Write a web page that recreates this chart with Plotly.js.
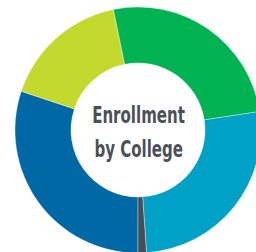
<!DOCTYPE html>
<html>
<head>
<meta charset="utf-8">
<script src="https://cdn.plot.ly/plotly-3.0.1.min.js"></script>
<style>
html,body{margin:0;padding:0;width:256px;height:252px;overflow:hidden;background:#fff;}
#chart{position:absolute;left:14.5px;top:7px;width:246px;height:246px;}
</style>
</head>
<body>
<div id="chart"></div>
<script>
var colleges = ["College of Arts & Sciences", "College of Education", "College of Business", "College of Health Sciences", "Other"];
var enrollmentShare = [30.1, 16.7, 25.8, 26.3, 1.1];
var sliceColors = ["#0068a5", "#c4d92e", "#00b352", "#00a1c7", "#474c56"];
var titleLines = ["Enrollment", "by College"];

var data = [{
  type: "pie",
  labels: colleges,
  values: enrollmentShare,
  hole: 0.545,
  sort: false,
  direction: "clockwise",
  rotation: 180,
  textinfo: "none",
  hoverinfo: "label+percent",
  marker: {colors: sliceColors, line: {color: "rgba(255,255,255,0.6)", width: 0.6}},
  domain: {x: [0, 1], y: [0, 1]}
}];

var font = {family: "'Liberation Sans Narrow', 'DejaVu Sans Condensed', sans-serif", size: 22.5, color: "#4a4f59", weight: 700};
var layout = {
  width: 246, height: 246,
  margin: {l: 0, r: 0, t: 0, b: 0, pad: 0},
  showlegend: false,
  paper_bgcolor: "rgba(0,0,0,0)",
  plot_bgcolor: "rgba(0,0,0,0)",
  annotations: [
    {text: "<b>" + titleLines[0] + "</b>", x: 0.5, y: 0.561, xref: "paper", yref: "paper", showarrow: false, font: font, xanchor: "center", yanchor: "middle"},
    {text: "<b>" + titleLines[1] + "</b>", x: 0.5, y: 0.423, xref: "paper", yref: "paper", showarrow: false, font: font, xanchor: "center", yanchor: "middle"}
  ]
};
Plotly.newPlot("chart", data, layout, {displayModeBar: false, staticPlot: true}).then(function () {
  var texts = document.querySelectorAll("#chart text.annotation-text");
  if (!texts.length) return;
  var w0 = texts[0].getBBox().width;
  if (!w0) return;
  var s = Math.min(1, 93 / w0);
  texts.forEach(function (t) {
    var b = t.getBBox();
    var cx = b.x + b.width / 2;
    t.setAttribute("transform", "translate(" + (cx * (1 - s)) + ",0) scale(" + s + ",1)");
  });
});
</script>
</body>
</html>
